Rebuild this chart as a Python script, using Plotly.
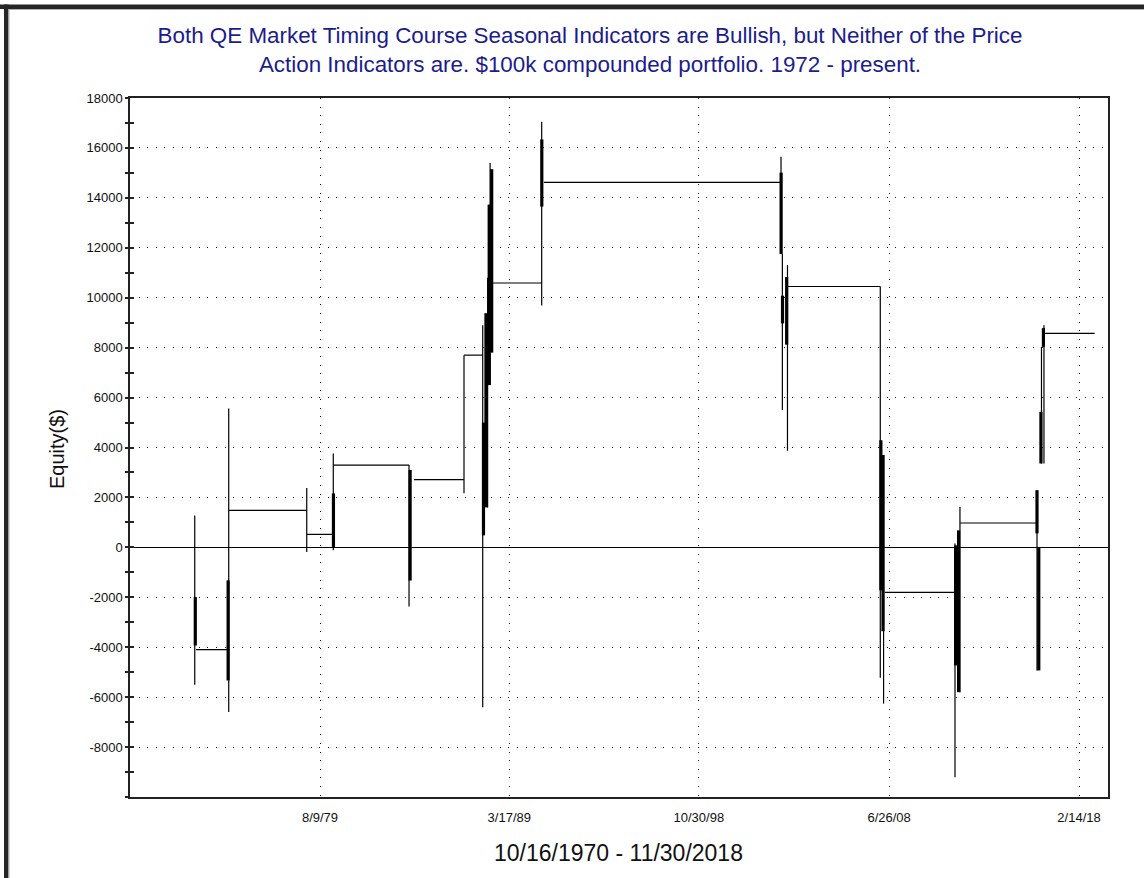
import plotly.graph_objects as go

# ---------------- data ----------------
flat_start = ["1973-04-24", "1974-12-25", "1978-12-06", "1980-04-15", "1984-05-16", "1986-11-29",
              "1987-11-11", "1988-05-20", "1990-12-20", "2003-04-30", "2008-04-10", "2012-01-30",
              "2016-05-05"]
flat_end = ["1974-12-21", "1978-12-06", "1980-04-11", "1984-02-14", "1986-11-29", "1987-11-11",
            "1987-11-11", "1990-11-08", "2002-12-31", "2008-01-14", "2011-10-30", "2015-12-28",
            "2018-11-30"]
flat_level = [-4100, 1480, 520, 3290, 2710, 7700, 7700, 10590, 14620, 10450, -1800, 975, 8570]

thin_date = ["1973-03-31", "1974-12-21", "1978-12-06", "1980-04-11", "1984-02-14", "1986-11-29",
             "1987-11-11", "1988-02-10", "1988-03-27", "1990-11-08", "2002-12-31", "2003-01-25",
             "2003-04-30", "2008-01-14", "2008-03-15", "2011-10-30", "2012-01-30", "2015-12-28",
             "2016-03-20", "2016-05-05"]
thin_low = [-5500, -6600, -190, -120, -2370, 2170, -6400, 1600, 6500, 9690, 11750, 5500,
            3870, -5220, -6260, -9210, -5800, -4930, 3360, 3360]
thin_high = [1280, 5560, 2380, 3760, 3300, 7700, 8900, 10800, 15400, 17050, 15650, 11750,
             11310, 10450, 3700, 150, 1620, 2290, 8030, 8900]

thick_date = ["1973-04-10", "1974-12-10", "1980-04-14", "1984-03-05", "1987-11-25", "1988-01-10",
              "1988-03-10", "1988-04-25", "1990-11-10", "2003-01-02", "2003-01-28", "2003-04-15",
              "2008-01-25", "2008-03-05", "2011-11-10", "2012-01-05", "2015-12-28", "2016-01-30",
              "2016-03-10", "2016-04-25"]
thick_low = [-3930, -5330, 0, -1330, 480, 1600, 6500, 7800, 13650, 11750, 8970, 8120,
             -1720, -3360, -4730, -5800, 560, -4930, 3360, 8030]
thick_high = [-1990, -1320, 2160, 3100, 5000, 9380, 13730, 15150, 16340, 15010, 10080, 10830,
              4290, 3700, 80, 680, 2290, 0, 5430, 8780]

tick_dates = ["1979-08-09", "1989-03-17", "1998-10-30", "2008-06-26", "2018-02-14"]
tick_text = ["8/9/79", "3/17/89", "10/30/98", "6/26/08", "2/14/18"]
y_ticks = [-8000, -6000, -4000, -2000, 0, 2000, 4000, 6000, 8000, 10000, 12000, 14000, 16000, 18000]
y_tick_text = [str(v) for v in y_ticks]

title_text = ("Both QE Market Timing Course Seasonal Indicators are Bullish, but Neither of the Price"
              "<br>Action Indicators are. $100k compounded portfolio. 1972 - present.")
x_title = "10/16/1970 - 11/30/2018"
y_title = "Equity($)"


def segs(xs0, xs1, ys0, ys1):
    X, Y = [], []
    for a, b, c, d in zip(xs0, xs1, ys0, ys1):
        X += [a, b, None]
        Y += [c, d, None]
    return X, Y


fig = go.Figure()
fx, fy = segs(flat_start, flat_end, flat_level, flat_level)
fig.add_trace(go.Scatter(x=fx, y=fy, mode="lines", line=dict(color="black", width=1.2),
                         hoverinfo="skip", showlegend=False))
tx, ty = segs(thin_date, thin_date, thin_low, thin_high)
fig.add_trace(go.Scatter(x=tx, y=ty, mode="lines", line=dict(color="black", width=1.2),
                         hoverinfo="skip", showlegend=False))
kx, ky = segs(thick_date, thick_date, thick_low, thick_high)
fig.add_trace(go.Scatter(x=kx, y=ky, mode="lines", line=dict(color="black", width=3.2),
                         hoverinfo="skip", showlegend=False))
# invisible trace to keep the overlay axis alive (inside tick marks)
fig.add_trace(go.Scatter(x=[tick_dates[0]], y=[0], yaxis="y2", mode="markers",
                         marker=dict(opacity=0), hoverinfo="skip", showlegend=False))

W, H = 1144, 878
L, R, T, B = 130, 1108, 98, 797
pw, ph = R - L, B - T

def px(x):
    return (x - L) / pw

def py(y):
    return (B - y) / ph

font = "Liberation Sans, Arial, sans-serif"
fig.update_layout(
    width=W, height=H,
    margin=dict(l=L, r=W - R, t=T, b=H - B, pad=0),
    paper_bgcolor="white", plot_bgcolor="white",
    font=dict(family=font, color="black"),
    title=dict(text=title_text, x=590 / W, xanchor="center", xref="container",
               y=1 - 43 / H, yanchor="top", yref="container",
               font=dict(size=22.4, color="#1c1c8c", family=font)),
    xaxis=dict(type="date", range=["1969-12-17", "2019-08-05"],
               tickvals=tick_dates, ticktext=tick_text, ticks="", ticklabelstandoff=8,
               tickfont=dict(size=13, color="#111"),
               showgrid=True, gridcolor="#1a1a1a", gridwidth=1, griddash="1px,7.6px",
               showline=True, linecolor="#222", linewidth=1.5, mirror=True, zeroline=False),
    yaxis=dict(range=[-10000, 18000], tickvals=y_ticks, ticktext=y_tick_text,
               ticks="outside", ticklen=3,
               tickcolor="#222", tickwidth=1.5, tickfont=dict(size=13, color="#111"),
               minor=dict(dtick=1000, tick0=0, ticks="outside", ticklen=3, tickcolor="#222",
                          tickwidth=1.5, showgrid=False),
               showgrid=True, gridcolor="#1a1a1a", gridwidth=1, griddash="1px,7.6px",
               zeroline=True, zerolinecolor="black", zerolinewidth=1.2,
               showline=True, linecolor="#222", linewidth=1.5, mirror=True),
    yaxis2=dict(range=[-10000, 18000], overlaying="y", side="left", tickvals=y_ticks,
                ticks="inside", ticklen=4, tickcolor="#222", tickwidth=1.5,
                showticklabels=False, showgrid=False, zeroline=False, showline=False,
                minor=dict(dtick=1000, tick0=0, ticks="inside", ticklen=4, tickcolor="#222",
                           tickwidth=1.5, showgrid=False)),
    annotations=[
        dict(text=x_title, xref="paper", yref="paper", x=px(618), y=py(853),
             xanchor="center", yanchor="middle", showarrow=False,
             font=dict(size=23, color="#111", family=font)),
        dict(text=y_title, xref="paper", yref="paper", x=px(57), y=py(449),
             xanchor="center", yanchor="middle", showarrow=False, textangle=-90,
             font=dict(size=20, color="#111", family=font)),
    ],
    shapes=[
        dict(type="rect", xref="paper", yref="paper", x0=px(-5), x1=px(W + 5), y0=py(4.5), y1=py(9),
             fillcolor="#262626", line=dict(width=0), layer="above"),
        dict(type="rect", xref="paper", yref="paper", x0=px(4), x1=px(8.5), y0=py(4.5), y1=py(H + 5),
             fillcolor="#262626", line=dict(width=0), layer="above"),
        dict(type="line", xref="paper", yref="paper", x0=px(8.5), x1=px(W), y0=py(9.5), y1=py(9.5),
             line=dict(color="#b0b0b0", width=1), layer="above"),
        dict(type="line", xref="paper", yref="paper", x0=px(9), x1=px(9), y0=py(9.5), y1=py(H),
             line=dict(color="#b0b0b0", width=1), layer="above"),
    ],
)

fig.write_html("out.html", config={"displayModeBar": False},
               post_script="document.body.style.margin='0';document.body.style.overflow='hidden';")
